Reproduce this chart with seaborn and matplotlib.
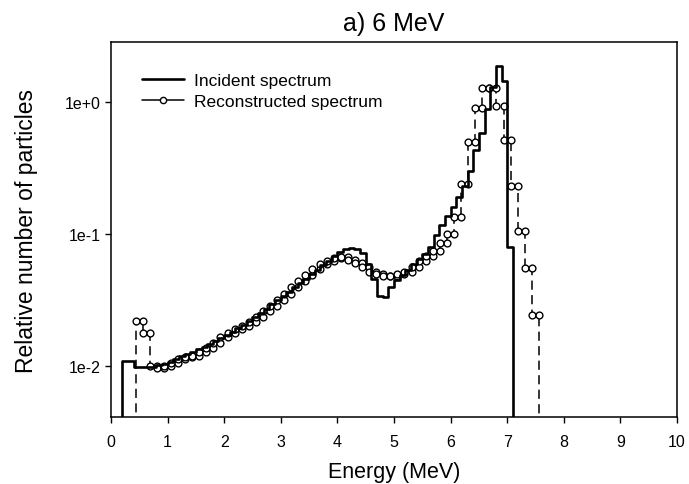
import numpy as np
import pandas as pd
import matplotlib
matplotlib.use("Agg")
import matplotlib.pyplot as plt
from matplotlib.lines import Line2D
from matplotlib.ticker import NullLocator
import seaborn as sns

# ---- data ----
inc_start = 0.2
inc_width = 0.1
incident = [
    0.0110, 0.0110, 0.0098, 0.0098, 0.0098, 0.0099, 0.0101, 0.0104,
    0.0108, 0.0113, 0.0118, 0.0123, 0.0128, 0.0134, 0.0140, 0.0147, 0.0155, 0.0163,
    0.0172, 0.0182, 0.0193, 0.0206, 0.0220, 0.0236, 0.0253, 0.0272, 0.0293, 0.0316,
    0.0340, 0.0366, 0.0394, 0.0425, 0.0458, 0.0495, 0.0535, 0.0580, 0.0630, 0.0680,
    0.0730, 0.0765, 0.0780, 0.0770, 0.0720, 0.0590, 0.0460, 0.0340, 0.0335, 0.0400,
    0.0450, 0.0490, 0.0530, 0.0590, 0.0650, 0.0710, 0.0800, 0.0980, 0.1180, 0.1370,
    0.1600, 0.1900, 0.2300, 0.3000, 0.4300, 0.5800, 0.8800, 1.3000, 1.8700, 1.4400,
    0.0800,
]
rec_start = 0.435
rec_width = 0.125
reconstructed = [
    0.0220, 0.0178, 0.0100, 0.0097, 0.0100, 0.0106, 0.0112, 0.0116, 0.0120, 0.0128,
    0.0138, 0.0150, 0.0165, 0.0178, 0.0190, 0.0200, 0.0215, 0.0235, 0.0260, 0.0285,
    0.0315, 0.0350, 0.0395, 0.0440, 0.0490, 0.0540, 0.0590, 0.0630, 0.0660, 0.0665,
    0.0640, 0.0600, 0.0560, 0.0520, 0.0495, 0.0480, 0.0480, 0.0495, 0.0515, 0.0560,
    0.0620, 0.0680, 0.0750, 0.0850, 0.1000, 0.1340, 0.2390, 0.4970, 0.9000, 1.2800,
    1.2800, 0.9300, 0.5150, 0.2300, 0.1060, 0.0553, 0.0243,
]
x_ticks = list(range(0, 11))
y_ticks = [0.01, 0.1, 1.0]
y_tick_labels = ["1e-2", "1e-1", "1e+0"]
y_min, y_max = 0.0041, 2.85
floor = 1e-4


def step_frame(start, width, vals):
    xs, ys = [], []
    for i, v in enumerate(vals):
        xs += [start + i * width, start + (i + 1) * width]
        ys += [v, v]
    return pd.DataFrame({"x": xs, "y": ys})


inc_df = step_frame(inc_start, inc_width, incident)
rec_df = step_frame(rec_start, rec_width, reconstructed)
inc_full = pd.concat([
    pd.DataFrame({"x": [inc_df.x.iloc[0]], "y": [floor]}), inc_df,
    pd.DataFrame({"x": [inc_df.x.iloc[-1]], "y": [floor]})], ignore_index=True)
rec_full = pd.concat([
    pd.DataFrame({"x": [rec_df.x.iloc[0]], "y": [floor]}), rec_df,
    pd.DataFrame({"x": [rec_df.x.iloc[-1]], "y": [floor]})], ignore_index=True)

sns.set_theme(style="ticks")
plt.rcParams["font.family"] = ["Liberation Sans", "DejaVu Sans"]
plt.rcParams["text.color"] = "black"
plt.rcParams["axes.labelcolor"] = "black"

fig = plt.figure(figsize=(6.89, 4.85), dpi=100)
ax = fig.add_axes([0.161, 0.138, 0.8216, 0.7732])

sns.lineplot(data=rec_full, x="x", y="y", sort=False, estimator=None, ax=ax,
             color="black", linewidth=1.1, linestyle=(0, (6, 3.5)), zorder=2)
sns.scatterplot(data=rec_df, x="x", y="y", ax=ax, marker="o", s=24,
                facecolor="white", edgecolor="black", linewidth=1.0, zorder=3)
sns.lineplot(data=inc_full, x="x", y="y", sort=False, estimator=None, ax=ax,
             color="black", linewidth=1.9, zorder=4)

ax.set_yscale("log")
ax.set_xlim(0, 10)
ax.set_ylim(y_min, y_max)
ax.set_xticks(x_ticks)
ax.set_xticklabels([str(t) for t in x_ticks])
ax.set_yticks(y_ticks)
ax.set_yticklabels(y_tick_labels)
ax.yaxis.set_minor_locator(NullLocator())
ax.tick_params(axis="both", direction="out", length=4, width=1, colors="black",
               labelsize=11.5)
ax.tick_params(axis="x", pad=8)
for sp in ax.spines.values():
    sp.set_visible(True)
    sp.set_color("black")
    sp.set_linewidth(1.1)

ax.set_xlabel("Energy (MeV)", fontsize=15.5, labelpad=9, color="black")
ax.set_ylabel("Relative number of particles", fontsize=16.5, labelpad=19,
              color="black")
ax.set_title("a) 6 MeV", fontsize=18, pad=9, color="black")

handles = [
    Line2D([], [], color="black", linewidth=1.9),
    Line2D([], [], color="black", linewidth=1.1, marker="o", markersize=4.5,
           markerfacecolor="white", markeredgecolor="black"),
]
ax.legend(handles, ["Incident spectrum", "Reconstructed spectrum"],
          loc="upper left", bbox_to_anchor=(0.055, 0.918), frameon=False,
          fontsize=12.5, handlelength=2.4, borderaxespad=0, borderpad=0,
          labelspacing=0.35, handletextpad=0.6, labelcolor="black")

fig.savefig("out.png", dpi=100)
